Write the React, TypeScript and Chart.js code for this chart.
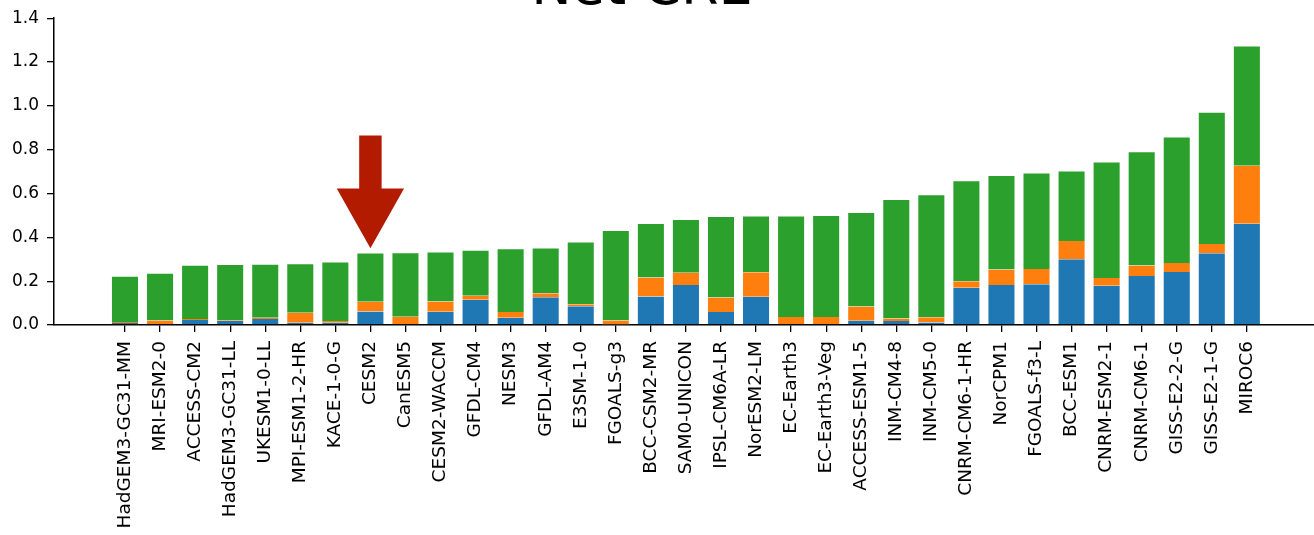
import React, { useEffect, useRef } from "react";
import { Chart, registerables } from "chart.js";

Chart.register(...registerables);

const categories: string[] = [
  "HadGEM3-GC31-MM", "MRI-ESM2-0", "ACCESS-CM2", "HadGEM3-GC31-LL", "UKESM1-0-LL",
  "MPI-ESM1-2-HR", "KACE-1-0-G", "CESM2", "CanESM5", "CESM2-WACCM", "GFDL-CM4",
  "NESM3", "GFDL-AM4", "E3SM-1-0", "FGOALS-g3", "BCC-CSM2-MR", "SAM0-UNICON",
  "IPSL-CM6A-LR", "NorESM2-LM", "EC-Earth3", "EC-Earth3-Veg", "ACCESS-ESM1-5",
  "INM-CM4-8", "INM-CM5-0", "CNRM-CM6-1-HR", "NorCPM1", "FGOALS-f3-L", "BCC-ESM1",
  "CNRM-ESM2-1", "CNRM-CM6-1", "GISS-E2-2-G", "GISS-E2-1-G", "MIROC6",
];

// bottom segment (blue)
const blueValues: number[] = [
  0.009, 0.003, 0.023, 0.018, 0.027, 0.010, 0.010, 0.062, 0.000, 0.060, 0.115,
  0.033, 0.127, 0.085, 0.002, 0.130, 0.182, 0.059, 0.129, 0.000, 0.000, 0.019,
  0.018, 0.011, 0.170, 0.182, 0.186, 0.300, 0.179, 0.224, 0.242, 0.327, 0.462,
];

// middle segment (orange)
const orangeValues: number[] = [
  0.005, 0.018, 0.004, 0.004, 0.006, 0.046, 0.008, 0.044, 0.038, 0.047, 0.018,
  0.026, 0.018, 0.010, 0.018, 0.087, 0.056, 0.067, 0.112, 0.036, 0.036, 0.065,
  0.012, 0.024, 0.030, 0.071, 0.069, 0.083, 0.036, 0.047, 0.041, 0.043, 0.265,
];

// top segment (green)
const greenValues: number[] = [
  0.211, 0.217, 0.248, 0.256, 0.246, 0.226, 0.272, 0.225, 0.294, 0.228, 0.210,
  0.291, 0.209, 0.286, 0.414, 0.249, 0.246, 0.371, 0.259, 0.464, 0.466, 0.432,
  0.545, 0.562, 0.460, 0.431, 0.441, 0.322, 0.531, 0.522, 0.577, 0.603, 0.548,
];

const yTickValues: number[] = [0, 0.2, 0.4, 0.6, 0.8, 1.0, 1.2, 1.4];
const titleText = "Net CRE";
const arrowCategory = "CESM2";
const arrowTop = 0.865;
const arrowHeadStart = 0.623;
const arrowTip = 0.35;

const FONT = "'DejaVu Sans', sans-serif";

export default function App() {
  const ref = useRef<HTMLCanvasElement | null>(null);

  useEffect(() => {
    const canvas = ref.current;
    if (!canvas) return;

    const toPts = (arr: number[]) => arr.map((v, i) => ({ x: i, y: v }));

    const titlePlugin = {
      id: "cutTitle",
      afterDraw(chart: any) {
        const ctx = chart.ctx;
        ctx.save();
        ctx.font = `54px ${FONT}`;
        ctx.fillStyle = "#000";
        ctx.textAlign = "center";
        ctx.textBaseline = "alphabetic";
        ctx.fillText(titleText, 642, 4);
        ctx.restore();
      },
    };

    const arrowPlugin = {
      id: "arrow",
      afterDatasetsDraw(chart: any) {
        const xs = chart.scales.x;
        const ys = chart.scales.y;
        const idx = categories.indexOf(arrowCategory);
        const cx = xs.getPixelForValue(idx);
        const unit = xs.getPixelForValue(idx + 1) - cx;
        const shaftHalf = unit * 0.32;
        const headHalf = unit * 0.96;
        const yTop = ys.getPixelForValue(arrowTop);
        const yHead = ys.getPixelForValue(arrowHeadStart);
        const yTip = ys.getPixelForValue(arrowTip);
        const ctx = chart.ctx;
        ctx.save();
        ctx.fillStyle = "#b31b00";
        ctx.beginPath();
        ctx.moveTo(cx - shaftHalf, yTop);
        ctx.lineTo(cx + shaftHalf, yTop);
        ctx.lineTo(cx + shaftHalf, yHead);
        ctx.lineTo(cx + headHalf, yHead);
        ctx.lineTo(cx, yTip);
        ctx.lineTo(cx - headHalf, yHead);
        ctx.lineTo(cx - shaftHalf, yHead);
        ctx.closePath();
        ctx.fill();
        ctx.restore();
      },
    };

    const chart = new Chart(canvas, {
      type: "bar",
      data: {
        datasets: [
          {
            label: "blue",
            data: toPts(blueValues) as any,
            backgroundColor: "#1f77b4",
            borderColor: "rgba(255,255,255,0.35)",
            borderWidth: { left: 1, right: 1, top: 0, bottom: 0 },
            borderSkipped: false,
          },
          {
            label: "orange",
            data: toPts(orangeValues) as any,
            backgroundColor: "#ff7f0e",
            borderColor: "rgba(255,255,255,0.35)",
            borderWidth: { left: 1, right: 1, top: 0, bottom: 0 },
            borderSkipped: false,
          },
          {
            label: "green",
            data: toPts(greenValues) as any,
            backgroundColor: "#2ca02c",
            borderColor: "rgba(255,255,255,0.35)",
            borderWidth: { left: 1, right: 1, top: 1, bottom: 0 },
            borderSkipped: false,
          },
        ],
      },
      options: {
        responsive: false,
        animation: false,
        barPercentage: 0.8,
        categoryPercentage: 1.0,
        layout: { padding: { top: 17, left: 0, right: 0, bottom: 0 } },
        plugins: {
          legend: { display: false },
          tooltip: { enabled: false },
          title: { display: false },
        },
        scales: {
          x: {
            type: "linear",
            stacked: true,
            offset: false,
            min: -2.025,
            max: 33.915,
            grid: {
              display: true,
              drawOnChartArea: false,
              drawTicks: true,
              tickLength: 7,
              color: "#000",
              lineWidth: 1.3,
              offset: false,
            },
            border: { display: true, color: "#000", width: 1.5 },
            afterBuildTicks: (scale: any) => {
              scale.ticks = categories.map((_, i) => ({ value: i }));
            },
            afterFit: (scale: any) => {
              scale.height = 210;
            },
            ticks: {
              autoSkip: false,
              minRotation: 90,
              maxRotation: 90,
              padding: 9,
              color: "#000",
              font: { family: FONT, size: 18.5 },
              callback: (v: any) => categories[Math.round(Number(v))] ?? "",
            },
          },
          y: {
            type: "linear",
            stacked: true,
            min: 0,
            max: 1.4,
            grid: {
              display: true,
              drawOnChartArea: false,
              drawTicks: true,
              tickLength: 7,
              color: "#000",
              lineWidth: 1.3,
            },
            border: { display: true, color: "#000", width: 1.5 },
            afterBuildTicks: (scale: any) => {
              scale.ticks = yTickValues.map((v) => ({ value: v }));
            },
            afterFit: (scale: any) => {
              scale.width = 54;
            },
            ticks: {
              padding: 8,
              color: "#000",
              font: { family: FONT, size: 17 },
              callback: (v: any) => Number(v).toFixed(1),
            },
          },
        },
      },
      plugins: [arrowPlugin, titlePlugin],
    });

    return () => chart.destroy();
  }, []);

  return (
    <div style={{ position: "absolute", left: 0, top: 0, width: 1314, height: 535, background: "#fff" }}>
      <canvas ref={ref} width={1314} height={535} style={{ display: "block" }} />
    </div>
  );
}
